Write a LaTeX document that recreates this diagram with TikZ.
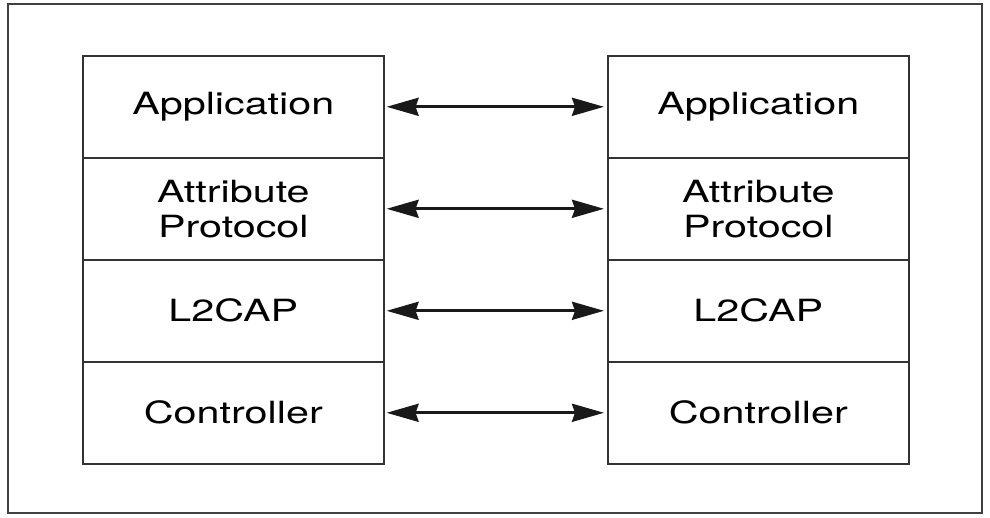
\documentclass[tikz,border=0pt]{standalone}
\usepackage{fontspec}
\setmainfont{TeX Gyre Heros}
\usetikzlibrary{arrows.meta}
\begin{document}
\begin{tikzpicture}[x=1pt,y=-1pt,
  layer/.style={draw=black!80, line width=1.6pt, minimum width=301pt, minimum height=102pt,
    inner sep=0pt, align=center, anchor=north west,
    font=\fontsize{30.6pt}{35pt}\selectfont},
  link/.style={line width=3pt, black!90, {Stealth[length=32pt,width=18pt,inset=3pt]}-{Stealth[length=32pt,width=18pt,inset=3pt]}, shorten <=2pt, shorten >=3pt}
]
\useasboundingbox (0,0) rectangle (990,517);
\draw[line width=2pt, black!75] (8,4) rectangle (982,513);
\newcommand{\wt}[1]{\scalebox{1.35}[1]{#1}}
% left stack
\node[layer] (LA) at (82,55) {\wt{Application}};
\node[layer] (LB) at (82,157) {\wt{Attribute}\\\wt{Protocol}};
\node[layer] (LC) at (82,259) {\wt{L2CAP}};
\node[layer] (LD) at (82,361) {\wt{Controller}};
% right stack
\node[layer] (RA) at (607,55) {\wt{Application}};
\node[layer] (RB) at (607,157) {\wt{Attribute}\\\wt{Protocol}};
\node[layer] (RC) at (607,259) {\wt{L2CAP}};
\node[layer] (RD) at (607,361) {\wt{Controller}};
% connectors
\draw[link] (LA.east) -- (RA.west);
\draw[link] (LB.east) -- (RB.west);
\draw[link] (LC.east) -- (RC.west);
\draw[link] (LD.east) -- (RD.west);
\end{tikzpicture}
\end{document}
